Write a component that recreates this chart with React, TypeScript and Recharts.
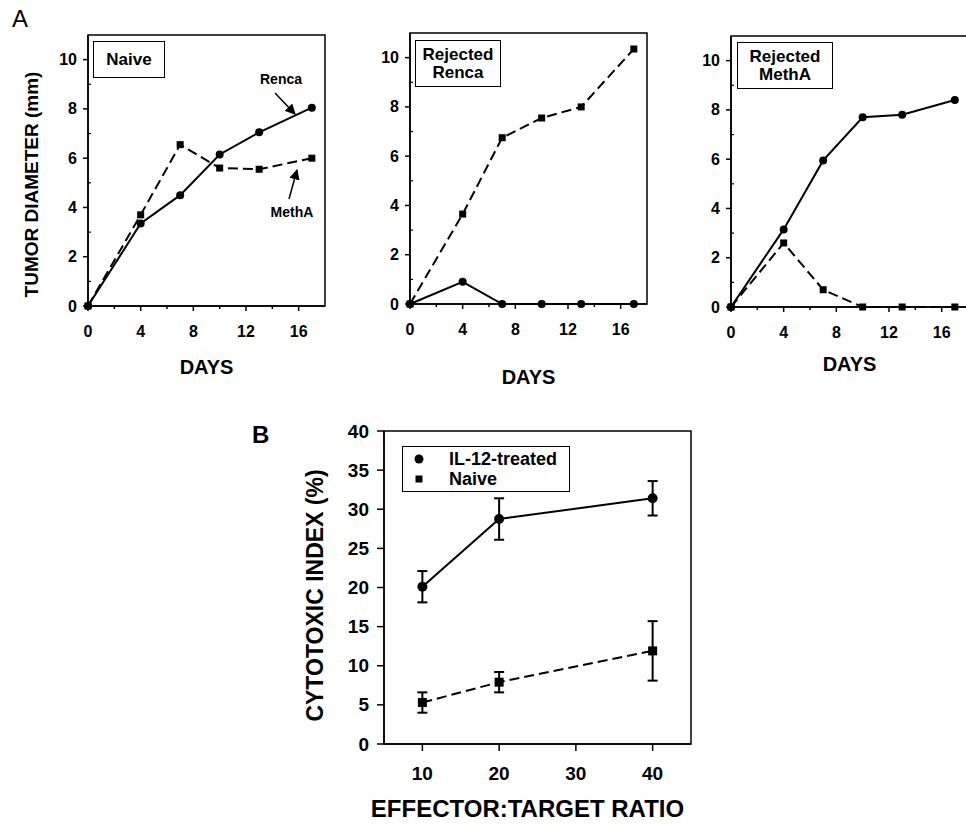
import React from "react";
import { LineChart, Line, XAxis, YAxis, ReferenceArea, ErrorBar, Legend } from "recharts";

// Panel A: tumor growth after rechallenge
const days = [0, 4, 7, 10, 13, 17];
const naiveRenca = [0, 3.35, 4.5, 6.15, 7.05, 8.05];
const naiveMethA = [0, 3.7, 6.55, 5.6, 5.55, 6.0];
const rejRencaRenca = [0, 0.9, 0, 0, 0, 0];
const rejRencaMethA = [0, 3.65, 6.75, 7.55, 8.0, 10.35];
const rejMethARenca = [0, 3.15, 5.95, 7.7, 7.8, 8.4];
const rejMethAMethA = [0, 2.6, 0.7, 0, 0, 0];
const dayTicks = [0, 2, 4, 6, 8, 10, 12, 14, 16];
const diameterTicks = [0, 1, 2, 3, 4, 5, 6, 7, 8, 9, 10];

// Panel B: cytotoxicity
const ratios = [10, 20, 40];
const il12 = [20.1, 28.75, 31.4];
const il12Err = [2.0, 2.65, 2.2];
const naiveCtl = [5.3, 7.9, 11.9];
const naiveCtlErr = [1.3, 1.3, 3.8];
const ratioTicks = [10, 20, 30, 40];
const cytoTicks = [0, 5, 10, 15, 20, 25, 30, 35, 40];

const FONT = '"Liberation Sans", Arial, Helvetica, sans-serif';
const DASH = "10 5";

const XTick = (p: any) => {
  const { x, y, payload, every, len, gap, fontSize } = p;
  const major = payload.value % every === 0;
  return (
    <g>
      <line x1={x} y1={y} x2={x} y2={y + (major ? len : 3)} stroke="#000" strokeWidth={1.5} />
      {major && (
        <text x={x} y={y + gap} textAnchor="middle" dominantBaseline="central" fontSize={fontSize} fontWeight={700} fill="#000">
          {payload.value}
        </text>
      )}
    </g>
  );
};

const YTick = (p: any) => {
  const { x, y, payload, every, len, gap, fontSize } = p;
  const major = payload.value % every === 0;
  return (
    <g>
      {major ? (
        <line x1={x} y1={y} x2={x - len} y2={y} stroke="#000" strokeWidth={1.5} />
      ) : (
        <line x1={x} y1={y} x2={x + 3} y2={y} stroke="#000" strokeWidth={1.2} />
      )}
      {major && (
        <text x={x - gap} y={y} textAnchor="end" dominantBaseline="central" fontSize={fontSize} fontWeight={700} fill="#000">
          {payload.value}
        </text>
      )}
    </g>
  );
};

const circleDot = (r: number) => (p: any) =>
  <circle key={`c${p.index}`} cx={p.cx} cy={p.cy} r={r} fill="#000" />;
const squareDot = (s: number) => (p: any) =>
  <rect key={`s${p.index}`} x={p.cx - s / 2} y={p.cy - s / 2} width={s} height={s} fill="#000" />;

type PanelProps = {
  left: number;
  top: number;
  renca: number[];
  methA: number[];
  yLabel?: boolean;
  daysOffset: number;
};

function GrowthPanel({ left, top, renca, methA, yLabel, daysOffset }: PanelProps) {
  const data = days.map((d, i) => ({ day: d, renca: renca[i], methA: methA[i] }));
  return (
    <div style={{ position: "absolute", left, top: 0 }}>
      <LineChart width={340} height={top + 271 + 95} data={data} margin={{ top, right: 15, bottom: 0, left: 0 }}>
        <XAxis
          dataKey="day"
          type="number"
          domain={[0, 18]}
          ticks={dayTicks}
          interval={0}
          height={95}
          tickSize={0}
          tickMargin={0}
          axisLine={{ stroke: "#000", strokeWidth: 1.5 }}
          tick={(p: any) => <XTick {...p} every={4} len={5} gap={25} fontSize={16} />}
          label={{ value: "DAYS", position: "insideBottom", offset: daysOffset, fontSize: 20, fontWeight: 700, fill: "#000" }}
        />
        <YAxis
          type="number"
          domain={[0, 11]}
          ticks={diameterTicks}
          interval={0}
          width={88}
          tickSize={0}
          tickMargin={0}
          axisLine={{ stroke: "#000", strokeWidth: 1.5 }}
          tick={(p: any) => <YTick {...p} every={2} len={5} gap={11} fontSize={16} />}
          label={
            yLabel
              ? { value: "TUMOR DIAMETER (mm)", angle: -90, position: "insideLeft", offset: 31, dy: 14, fontSize: 19, fontWeight: 700, fill: "#000", style: { textAnchor: "middle" } }
              : undefined
          }
        />
        <ReferenceArea x1={0} x2={18} y1={0} y2={11} fill="none" stroke="#000" strokeWidth={1.5} ifOverflow="visible" />
        <Line dataKey="renca" name="Renca" stroke="#000" strokeWidth={2} dot={circleDot(4)} isAnimationActive={false} />
        <Line dataKey="methA" name="MethA" stroke="#000" strokeWidth={2} strokeDasharray={DASH} dot={squareDot(7)} isAnimationActive={false} />
      </LineChart>
    </div>
  );
}

const boxStyle: React.CSSProperties = {
  position: "absolute",
  border: "1.5px solid #000",
  boxSizing: "border-box",
  fontWeight: 700,
  fontSize: 17,
  lineHeight: "18px",
  textAlign: "center",
  display: "flex",
  flexDirection: "column",
  justifyContent: "center",
  background: "#fff",
};

const BLegend = ({ payload }: any) => (
  <div style={{ border: "1.5px solid #000", width: 168, height: 46, boxSizing: "border-box", paddingTop: 2, background: "#fff" }}>
    {(payload || []).map((e: any) => (
      <div key={e.value} style={{ display: "flex", alignItems: "center", height: 20 }}>
        <svg width={46} height={16}>
          {e.value === "Naive" ? <rect x={12.5} y={4.5} width={7} height={7} fill="#000" /> : <circle cx={16} cy={8} r={4.5} fill="#000" />}
        </svg>
        <span style={{ fontSize: 18, fontWeight: 700, lineHeight: "20px" }}>{e.value}</span>
      </div>
    ))}
  </div>
);

function CytotoxPanel() {
  const data = ratios.map((r, i) => ({ ratio: r, il12: il12[i], il12Err: il12Err[i], naive: naiveCtl[i], naiveErr: naiveCtlErr[i] }));
  return (
    <div style={{ position: "absolute", left: 284, top: 400 }}>
      <LineChart width={417} height={425} data={data} margin={{ top: 31, right: 10, bottom: 0, left: 0 }}>
        <XAxis
          dataKey="ratio"
          type="number"
          domain={[5, 45]}
          ticks={ratioTicks}
          interval={0}
          height={81}
          tickSize={0}
          tickMargin={0}
          axisLine={{ stroke: "#000", strokeWidth: 1.5 }}
          tick={(p: any) => <XTick {...p} every={10} len={7} gap={29} fontSize={19} />}
          label={{ value: "EFFECTOR:TARGET RATIO", position: "insideBottom", offset: 8, dx: -10, fontSize: 24, fontWeight: 700, fill: "#000" }}
        />
        <YAxis
          type="number"
          domain={[0, 40]}
          ticks={cytoTicks}
          interval={0}
          width={100}
          tickSize={0}
          tickMargin={0}
          axisLine={{ stroke: "#000", strokeWidth: 1.5 }}
          tick={(p: any) => <YTick {...p} every={5} len={7} gap={15} fontSize={19} />}
          label={{ value: "CYTOTOXIC INDEX (%)", angle: -90, position: "insideLeft", offset: 31, dy: 8, fontSize: 23, fontWeight: 700, fill: "#000", style: { textAnchor: "middle" } }}
        />
        <ReferenceArea x1={5} x2={45} y1={0} y2={40} fill="none" stroke="#000" strokeWidth={1.5} ifOverflow="visible" />
        <Legend
          layout="vertical"
          align="center"
          verticalAlign="middle"
          wrapperStyle={{ left: 118, top: 46, width: 168 }}
          content={<BLegend />}
        />
        <Line dataKey="il12" name="IL-12-treated" stroke="#000" strokeWidth={2} dot={circleDot(5)} isAnimationActive={false}>
          <ErrorBar dataKey="il12Err" direction="y" width={5} stroke="#000" strokeWidth={2} />
        </Line>
        <Line dataKey="naive" name="Naive" stroke="#000" strokeWidth={2} strokeDasharray={DASH} dot={squareDot(9)} isAnimationActive={false}>
          <ErrorBar dataKey="naiveErr" direction="y" width={5} stroke="#000" strokeWidth={2} />
        </Line>
      </LineChart>
    </div>
  );
}

export default function App() {
  return (
    <div style={{ position: "absolute", left: 0, top: 0, width: 966, height: 825, overflow: "hidden", background: "#fff", fontFamily: FONT, color: "#000" }}>
      <div style={{ position: "absolute", left: 12, top: 5, fontSize: 24 }}>A</div>
      <div style={{ position: "absolute", left: 252, top: 421, fontSize: 24, fontWeight: 700 }}>B</div>

      <GrowthPanel left={0} top={35} renca={naiveRenca} methA={naiveMethA} yLabel daysOffset={27} />
      <GrowthPanel left={322} top={33} renca={rejRencaRenca} methA={rejRencaMethA} daysOffset={15} />
      <GrowthPanel left={643} top={36} renca={rejMethARenca} methA={rejMethAMethA} daysOffset={31} />

      <div style={{ ...boxStyle, left: 93, top: 41, width: 72, height: 37 }}>Naive</div>
      <div style={{ ...boxStyle, left: 415, top: 40, width: 86, height: 47 }}>
        <span>Rejected</span>
        <span>Renca</span>
      </div>
      <div style={{ ...boxStyle, left: 737, top: 42, width: 96, height: 47 }}>
        <span>Rejected</span>
        <span>MethA</span>
      </div>

      {/* curve annotations in panel A */}
      <svg width={340} height={260} style={{ position: "absolute", left: 0, top: 0 }}>
        <defs>
          <marker id="ah" viewBox="0 0 10 10" refX="9" refY="5" markerWidth="7" markerHeight="7" orient="auto-start-reverse">
            <path d="M0,0 L10,5 L0,10 z" fill="#000" />
          </marker>
        </defs>
        <text x={281} y={84} textAnchor="middle" fontSize={14} fontWeight={700}>Renca</text>
        <line x1={275} y1={93} x2={295} y2={114} stroke="#000" strokeWidth={1.5} markerEnd="url(#ah)" />
        <text x={292} y={217} textAnchor="middle" fontSize={14} fontWeight={700}>MethA</text>
        <line x1={289} y1={199} x2={297} y2={170} stroke="#000" strokeWidth={1.5} markerEnd="url(#ah)" />
      </svg>

      <CytotoxPanel />
    </div>
  );
}
